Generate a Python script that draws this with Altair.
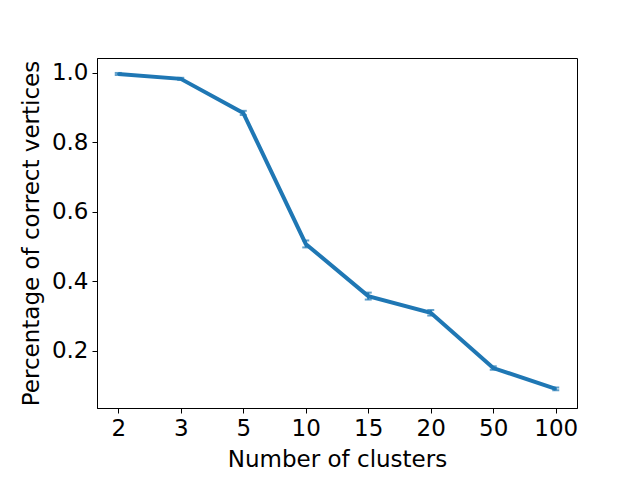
import altair as alt
import pandas as pd

clusters = ["2", "3", "5", "10", "15", "20", "50", "100"]
values = [0.997, 0.983, 0.885, 0.508, 0.358, 0.310, 0.151, 0.091]
errors = [0.003, 0.003, 0.006, 0.010, 0.010, 0.008, 0.005, 0.004]

df = pd.DataFrame({"c": clusters, "v": values, "e": errors})
df["lo"] = df.v - df.e
df["hi"] = df.v + df.e

x = alt.X("c:O", sort=clusters, title="Number of clusters",
          scale=alt.Scale(type="point", padding=0.34),
          axis=alt.Axis(labelAngle=0))
y = alt.Y("v:Q", title="Percentage of correct vertices",
          scale=alt.Scale(domain=[0.036, 1.043], nice=False, zero=False),
          axis=alt.Axis(values=[0.2, 0.4, 0.6, 0.8, 1.0], format=".1f", grid=False))

color = "#1f77b4"
line = alt.Chart(df).mark_line(color=color, strokeWidth=4).encode(x=x, y=y)
err = alt.Chart(df).mark_errorbar(color=color, ticks=alt.TickConfig(width=7, thickness=2), thickness=2).encode(
    x=x, y=alt.Y("lo:Q", title="Percentage of correct vertices"), y2="hi:Q")

chart = (line + err).properties(
    width=480, height=350,
    autosize=alt.AutoSizeParams(type="none"),
    padding={"left": 89, "top": 50, "right": 47, "bottom": 64},
).configure_view(stroke="black", strokeWidth=1).configure_axis(
    labelFont="DejaVu Sans", titleFont="DejaVu Sans", labelFontSize=23, titleFontSize=23,
    titleFontWeight="normal", labelColor="black", titleColor="black",
    domainColor="black", tickColor="black", tickSize=5, labelPadding=4, titlePadding=8,
)

chart.save("out.html", embed_options={"renderer": "svg", "actions": False})
